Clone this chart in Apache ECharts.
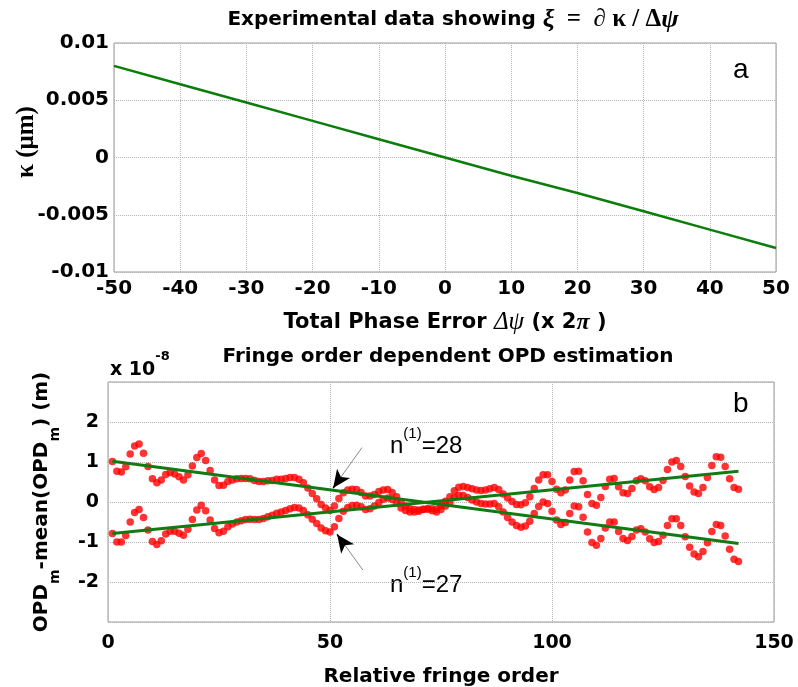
<!DOCTYPE html>
<html><head><meta charset="utf-8">
<script src="https://cdn.jsdelivr.net/npm/echarts@6/dist/echarts.min.js"></script>
<style>html,body{margin:0;padding:0;background:#fff}#c{width:798px;height:687px}</style>
</head><body><div id="c"></div>
<script>
// ---- panel a ----
const phaseError = [-50,-40,-30,-20,-10,0,10,20,30,40,50];
const kappa = [0.0080,0.0064,0.0048,0.0032,0.0016,0,-0.0016,-0.0031,-0.0047,-0.0063,-0.0079];

// ---- panel b (units of 1e-8 m), fringe order 1..142 ----
const opdN28 = [
 1.01,0.77,0.75,0.88,1.20,1.40,1.45,1.22,0.89,0.58,
 0.48,0.55,0.69,0.74,0.70,0.63,0.55,0.68,0.90,1.11,
 1.21,1.04,0.79,0.55,0.41,0.42,0.51,0.55,0.58,0.59,
 0.59,0.58,0.54,0.51,0.51,0.53,0.54,0.57,0.57,0.59,
 0.61,0.61,0.57,0.48,0.35,0.21,0.08,-0.06,-0.15,-0.21,
 -0.10,0.09,0.23,0.30,0.32,0.31,0.24,0.15,0.15,0.19,
 0.26,0.30,0.31,0.24,0.13,-0.02,-0.10,-0.17,-0.19,-0.20,
 -0.18,-0.18,-0.22,-0.25,-0.19,-0.10,-0.02,0.11,0.17,0.16,
 0.11,0.05,0.00,-0.04,-0.05,-0.05,-0.04,-0.12,-0.25,-0.39,
 -0.50,-0.59,-0.63,-0.60,-0.48,-0.29,-0.11,0.00,-0.04,-0.23,
 -0.45,-0.56,-0.51,-0.29,-0.10,-0.12,-0.38,-0.75,-1.01,-1.08,
 -0.91,-0.65,-0.50,-0.50,-0.74,-0.91,-0.96,-0.86,-0.70,-0.67,
 -0.75,-0.92,-1.01,-0.99,-0.83,-0.59,-0.42,-0.42,-0.59,-0.87,
 -1.13,-1.30,-1.37,-1.24,-1.02,-0.74,-0.56,-0.59,-0.85,-1.18,
 -1.43,-1.49];
const opdN27 = [
 -0.79,-1.00,-1.00,-0.84,-0.50,-0.26,-0.19,-0.39,-0.70,-0.99,
 -1.06,-0.97,-0.80,-0.73,-0.73,-0.78,-0.83,-0.68,-0.44,-0.20,
 -0.08,-0.22,-0.45,-0.66,-0.77,-0.73,-0.62,-0.55,-0.50,-0.47,
 -0.44,-0.43,-0.44,-0.44,-0.41,-0.37,-0.33,-0.28,-0.25,-0.21,
 -0.17,-0.14,-0.15,-0.21,-0.32,-0.43,-0.54,-0.65,-0.72,-0.75,
 -0.62,-0.41,-0.23,-0.14,-0.09,-0.08,-0.12,-0.19,-0.17,-0.10,
 -0.01,0.07,0.10,0.06,-0.03,-0.15,-0.21,-0.25,-0.25,-0.23,
 -0.19,-0.16,-0.17,-0.18,-0.09,0.02,0.13,0.28,0.37,0.39,
 0.36,0.33,0.30,0.29,0.30,0.33,0.36,0.31,0.20,0.10,
 0.01,-0.06,-0.07,-0.02,0.13,0.34,0.55,0.68,0.68,0.51,
 0.32,0.23,0.30,0.55,0.76,0.77,0.53,0.19,-0.04,-0.08,
 0.11,0.39,0.57,0.59,0.38,0.23,0.21,0.34,0.53,0.58,
 0.53,0.38,0.31,0.36,0.54,0.81,1.00,1.04,0.89,0.64,
 0.40,0.25,0.21,0.36,0.61,0.91,1.13,1.12,0.89,0.58,
 0.36,0.32];
const fitOrders = [1, 142];
const fitN28 = [1.02, -1.04];
const fitN27 = [-0.79, 0.77];

// annotation arrows (data coords): [tail, tip]
const arrowN28 = [[57.2, 1.36], [50.7, 0.35]];
const arrowN27 = [[57.4, -1.70], [51.6, -0.81]];

const bold = {fontFamily:'DejaVu Sans', fontWeight:'bold', color:'#000'};
const pairs = (xs, ys) => ys.map((y, i) => [xs[i], y]);
const indexed = ys => ys.map((y, i) => [i + 1, y]);

function arrowLines(a) {
  const tail = a[0], tip = a[1];
  const near = [tip[0] + (tail[0]-tip[0])*0.22, tip[1] + (tail[1]-tip[1])*0.22];
  return [
    [{coord: tail, symbol:'none', lineStyle:{color:'#8a8a8a', width:1, type:'solid'}}, {coord: tip, symbol:'none'}],
    [{coord: near, symbol:'none', lineStyle:{color:'#000', width:1.5, type:'solid'}}, {coord: tip, symbol:'arrow', symbolSize:[12,18]}]
  ];
}

const splitStyle = {show:true, lineStyle:{type:'dotted', color:'#b4b4b4', width:1}};

const chart = echarts.init(document.getElementById('c'));
chart.setOption({
  animation:false,
  backgroundColor:'#fff',
  title:[
    {text:'{a|Experimental data showing }{g|ξ}{s|  =  ∂ }{k|κ}{s| / Δ}{g|ψ}', left:448, top:2, textAlign:'center',
     textStyle:{rich:{
       a:{fontFamily:'DejaVu Sans', fontWeight:'bold', fontSize:20, color:'#000'},
       g:{fontFamily:'Liberation Serif', fontStyle:'italic', fontWeight:'bold', fontSize:26, color:'#000'},
       s:{fontFamily:'Liberation Serif', fontSize:25, color:'#000'},
       k:{fontFamily:'Liberation Serif', fontWeight:'bold', fontSize:25, color:'#000'}}}},
    {text:'Fringe order dependent OPD estimation', left:443, top:342, textAlign:'center',
     textStyle:{fontFamily:'DejaVu Sans', fontWeight:'bold', fontSize:20, color:'#000'}}
  ],
  grid:[
    {left:114, right:22, top:43, height:229, show:true, borderColor:'#9a9a9a', borderWidth:1,
     containLabel:false, outerBoundsMode:'none'},
    {left:108, right:24, top:382, height:240, show:true, borderColor:'#9a9a9a', borderWidth:1,
     containLabel:false, outerBoundsMode:'none'}
  ],
  xAxis:[
    {gridIndex:0, type:'value', min:-50, max:50, interval:10,
     axisLine:{show:false}, axisTick:{show:false}, splitLine:splitStyle,
     axisLabel:Object.assign({fontSize:20, margin:7}, bold),
     name:'{t|Total Phase Error }{g|Δψ}{t| (x 2}{p|π}{t| )}', nameLocation:'middle', nameGap:38,
     nameTextStyle:{rich:{
       t:{fontFamily:'DejaVu Sans', fontWeight:'bold', fontSize:21, color:'#000'},
       g:{fontFamily:'Liberation Serif', fontStyle:'italic', fontSize:25, color:'#000'},
       p:{fontFamily:'Liberation Serif', fontStyle:'italic', fontWeight:'bold', fontSize:24, color:'#000'}}}},
    {gridIndex:1, type:'value', min:0, max:150, interval:50,
     axisLine:{show:false}, axisTick:{show:false}, splitLine:splitStyle,
     axisLabel:Object.assign({fontSize:19, margin:12}, bold),
     name:'Relative fringe order', nameLocation:'middle', nameGap:45,
     nameTextStyle:Object.assign({fontSize:20}, bold)}
  ],
  yAxis:[
    {gridIndex:0, type:'value', min:-0.01, max:0.01, interval:0.005,
     axisLine:{show:false}, axisTick:{show:false}, splitLine:splitStyle,
     axisLabel:Object.assign({fontSize:20, margin:5, formatter:v => String(+v.toFixed(3))}, bold)},
    {gridIndex:1, type:'value', min:-3, max:3, interval:1,
     axisLine:{show:false}, axisTick:{show:false}, splitLine:splitStyle,
     axisLabel:Object.assign({fontSize:19, margin:9, showMinLabel:false, showMaxLabel:false}, bold),
     name:'{t|OPD}{s|m}{t|-mean(OPD}{s|m}{t|) (m)}', nameLocation:'middle', nameRotate:90, nameGap:46,
     nameTextStyle:{rich:{
       t:{fontFamily:'DejaVu Sans', fontWeight:'bold', fontSize:20, color:'#000', lineHeight:30, verticalAlign:'top'},
       s:{fontFamily:'DejaVu Sans', fontWeight:'bold', fontSize:14, color:'#000', lineHeight:30, verticalAlign:'bottom'}}}}
  ],
  series:[
    {type:'line', xAxisIndex:0, yAxisIndex:0, data:pairs(phaseError, kappa), showSymbol:false,
     lineStyle:{color:'#0a7d0a', width:2.5}},
    {type:'scatter', xAxisIndex:1, yAxisIndex:1, data:indexed(opdN28), symbolSize:7.5,
     itemStyle:{color:'#ff0000'}, z:2},
    {type:'scatter', xAxisIndex:1, yAxisIndex:1, data:indexed(opdN27), symbolSize:7.5,
     itemStyle:{color:'#ff0000'}, z:2},
    {type:'line', xAxisIndex:1, yAxisIndex:1, data:pairs(fitOrders, fitN28), showSymbol:false,
     lineStyle:{color:'#127a12', width:3}, z:3},
    {type:'line', xAxisIndex:1, yAxisIndex:1, data:pairs(fitOrders, fitN27), showSymbol:false,
     lineStyle:{color:'#127a12', width:3}, z:3,
     markLine:{silent:true, animation:false, label:{show:false}, symbol:['none','none'],
       data: arrowLines(arrowN28).concat(arrowLines(arrowN27))}}
  ],
  graphic:[
    {type:'text', x:27, y:142, rotation:Math.PI/2,
     style:{text:'κ (μm)', font:'bold 25px "Liberation Serif"', fill:'#000', textAlign:'center', textVerticalAlign:'middle'}},
    {type:'text', left:733, top:56, style:{text:'a', font:'28px "Liberation Sans"', fill:'#000'}},
    {type:'text', left:733, top:390, style:{text:'b', font:'28px "Liberation Sans"', fill:'#000'}},
    {type:'text', left:110, top:350, style:{text:'{t|x 10}{p|-8}', rich:{
       t:{fontFamily:'DejaVu Sans', fontWeight:'bold', fontSize:19, fill:'#000', lineHeight:30, verticalAlign:'bottom'},
       p:{fontFamily:'DejaVu Sans', fontWeight:'bold', fontSize:13, fill:'#000', lineHeight:30, verticalAlign:'top'}}}},
    {type:'text', left:370, top:424, style:{text:'{t|n}{p|(1)}{t|=28}', backgroundColor:'#fff', padding:[2,20,2,20], rich:{
       t:{fontFamily:'Liberation Sans', fontSize:24, fill:'#000', lineHeight:32, verticalAlign:'bottom'},
       p:{fontFamily:'Liberation Sans', fontSize:15, fill:'#000', lineHeight:32, verticalAlign:'top'}}}},
    {type:'text', left:368, top:563, style:{text:'{t|n}{p|(1)}{t|=27}', backgroundColor:'#fff', padding:[2,22,2,22], rich:{
       t:{fontFamily:'Liberation Sans', fontSize:24, fill:'#000', lineHeight:32, verticalAlign:'bottom'},
       p:{fontFamily:'Liberation Sans', fontSize:15, fill:'#000', lineHeight:32, verticalAlign:'top'}}}}
  ]
});
</script></body></html>
